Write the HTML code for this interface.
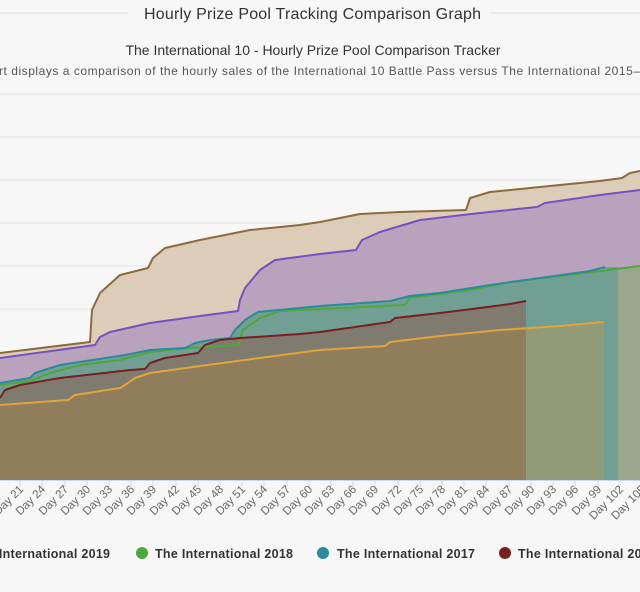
<!DOCTYPE html>
<html><head><meta charset="utf-8"><style>
html,body{margin:0;padding:0;background:#f7f7f7;}
svg{display:block;font-family:"Liberation Sans",sans-serif;}
</style></head><body>
<svg width="640" height="592" viewBox="0 0 640 592" xmlns="http://www.w3.org/2000/svg">
<rect width="640" height="592" fill="#f7f7f7"/>
<line x1="0" y1="13" x2="128" y2="13" stroke="#e2e2e2"/>
<line x1="490" y1="13" x2="640" y2="13" stroke="#e2e2e2"/>
<text x="144" y="19" font-size="16" fill="#333" textLength="337">Hourly Prize Pool Tracking Comparison Graph</text>
<text x="313" y="55" font-size="14" text-anchor="middle" fill="#333">The International 10 - Hourly Prize Pool Comparison Tracker</text>
<text x="-1" y="75" font-size="12" fill="#555" textLength="641">rt displays a comparison of the hourly sales of the International 10 Battle Pass versus The International 2015–</text>
<g stroke="#e4e4e4" stroke-width="1">
<line x1="0" y1="94" x2="640" y2="94"/><line x1="0" y1="137" x2="640" y2="137"/><line x1="0" y1="180" x2="640" y2="180"/><line x1="0" y1="223" x2="640" y2="223"/><line x1="0" y1="266" x2="640" y2="266"/><line x1="0" y1="309" x2="640" y2="309"/>
</g>
<path d="M0,353 L90,342 L92,310 L100,293 L120,275 L148,268 L153,258 L165,248 L200,240 L250,230 L300,225 L320,222 L360,214 L400,212 L466,210 L470,198 L490,192 L540,187 L600,181 L622,178 L630,173 L640,171 L640,480 L0,480Z" fill="#dccdb8"/>
<path d="M0,358 L95,345 L100,337 L110,332 L150,323 L200,316 L238,311 L240,300 L245,288 L260,270 L275,260 L305,256 L320,254 L356,250 L362,240 L380,232 L420,220 L480,213 L537,207 L545,203 L600,195 L640,190 L640,480 L0,480Z" fill="#b8a2bc"/>
<path d="M0,385 L30,381 L50,373 L80,365 L120,360 L150,352 L190,348 L238,345 L243,330 L260,318 L280,311 L320,309 L405,305 L410,298 L470,290 L510,282 L560,276 L600,271 L640,266 L640,480 L0,480Z" fill="#9aa68e"/>
<path d="M0,383 L30,378 L35,373 L60,365 L125,355 L150,350 L185,348 L195,343 L210,340 L230,338 L235,330 L245,320 L258,312 L300,308 L320,306 L390,301 L410,296 L440,293 L490,285 L540,278 L590,271 L605,267 L618,267 L618,480 L0,480Z" fill="#719f94"/>
<path d="M0,398 L5,390 L20,385 L60,378 L130,370 L145,369 L150,363 L165,358 L198,353 L205,345 L220,340 L240,338 L300,334 L320,332 L390,322 L395,318 L440,313 L480,308 L510,304 L526,301 L526,480 L0,480Z" fill="#807b6f"/>
<path d="M0,405 L68,400 L75,395 L120,388 L125,385 L135,378 L150,373 L200,366 L260,358 L320,350 L385,346 L390,342 L440,336 L500,330 L560,326 L604,322 L604,480 L0,480Z" fill="#929b78"/>
<path d="M0,405 L68,400 L75,395 L120,388 L125,385 L135,378 L150,373 L200,366 L260,358 L320,350 L385,346 L390,342 L440,336 L500,330 L526,328 L526,480 L0,480Z" fill="#8f7d5c"/>
<g fill="none" stroke-width="2" stroke-linejoin="round">
<path d="M0,353 L90,342 L92,310 L100,293 L120,275 L148,268 L153,258 L165,248 L200,240 L250,230 L300,225 L320,222 L360,214 L400,212 L466,210 L470,198 L490,192 L540,187 L600,181 L622,178 L630,173 L640,171" stroke="#8d6a3a"/>
<path d="M0,358 L95,345 L100,337 L110,332 L150,323 L200,316 L238,311 L240,300 L245,288 L260,270 L275,260 L305,256 L320,254 L356,250 L362,240 L380,232 L420,220 L480,213 L537,207 L545,203 L600,195 L640,190" stroke="#7a4fc4"/>
<path d="M0,385 L30,381 L50,373 L80,365 L120,360 L150,352 L190,348 L238,345 L243,330 L260,318 L280,311 L320,309 L405,305 L410,298 L470,290 L510,282 L560,276 L600,271 L640,266" stroke="#4fa83a"/>
<path d="M0,383 L30,378 L35,373 L60,365 L125,355 L150,350 L185,348 L195,343 L210,340 L230,338 L235,330 L245,320 L258,312 L300,308 L320,306 L390,301 L410,296 L440,293 L490,285 L540,278 L590,271 L605,267" stroke="#2a8b9c"/>
<path d="M0,398 L5,390 L20,385 L60,378 L130,370 L145,369 L150,363 L165,358 L198,353 L205,345 L220,340 L240,338 L300,334 L320,332 L390,322 L395,318 L440,313 L480,308 L510,304 L526,301" stroke="#7a1f1f"/>
<path d="M0,405 L68,400 L75,395 L120,388 L125,385 L135,378 L150,373 L200,366 L260,358 L320,350 L385,346 L390,342 L440,336 L500,330 L560,326 L604,322" stroke="#e2a33a"/>
</g>
<line x1="0" y1="480.5" x2="640" y2="480.5" stroke="#ccd6eb"/>
<g stroke="#ccd6eb">
<line x1="20" y1="480" x2="20" y2="487"/><line x1="42" y1="480" x2="42" y2="487"/><line x1="65" y1="480" x2="65" y2="487"/><line x1="87" y1="480" x2="87" y2="487"/><line x1="109" y1="480" x2="109" y2="487"/><line x1="131" y1="480" x2="131" y2="487"/><line x1="153" y1="480" x2="153" y2="487"/><line x1="176" y1="480" x2="176" y2="487"/><line x1="198" y1="480" x2="198" y2="487"/><line x1="220" y1="480" x2="220" y2="487"/><line x1="242" y1="480" x2="242" y2="487"/><line x1="264" y1="480" x2="264" y2="487"/><line x1="287" y1="480" x2="287" y2="487"/><line x1="309" y1="480" x2="309" y2="487"/><line x1="331" y1="480" x2="331" y2="487"/><line x1="353" y1="480" x2="353" y2="487"/><line x1="375" y1="480" x2="375" y2="487"/><line x1="398" y1="480" x2="398" y2="487"/><line x1="420" y1="480" x2="420" y2="487"/><line x1="442" y1="480" x2="442" y2="487"/><line x1="464" y1="480" x2="464" y2="487"/><line x1="486" y1="480" x2="486" y2="487"/><line x1="509" y1="480" x2="509" y2="487"/><line x1="531" y1="480" x2="531" y2="487"/><line x1="553" y1="480" x2="553" y2="487"/><line x1="575" y1="480" x2="575" y2="487"/><line x1="598" y1="480" x2="598" y2="487"/><line x1="620" y1="480" x2="620" y2="487"/>
</g>
<g font-size="11.5" fill="#666" text-anchor="end">
<text transform="translate(24,490) rotate(-45)">Day 21</text>
<text transform="translate(46,490) rotate(-45)">Day 24</text>
<text transform="translate(69,490) rotate(-45)">Day 27</text>
<text transform="translate(91,490) rotate(-45)">Day 30</text>
<text transform="translate(113,490) rotate(-45)">Day 33</text>
<text transform="translate(135,490) rotate(-45)">Day 36</text>
<text transform="translate(157,490) rotate(-45)">Day 39</text>
<text transform="translate(180,490) rotate(-45)">Day 42</text>
<text transform="translate(202,490) rotate(-45)">Day 45</text>
<text transform="translate(224,490) rotate(-45)">Day 48</text>
<text transform="translate(246,490) rotate(-45)">Day 51</text>
<text transform="translate(268,490) rotate(-45)">Day 54</text>
<text transform="translate(291,490) rotate(-45)">Day 57</text>
<text transform="translate(313,490) rotate(-45)">Day 60</text>
<text transform="translate(335,490) rotate(-45)">Day 63</text>
<text transform="translate(357,490) rotate(-45)">Day 66</text>
<text transform="translate(379,490) rotate(-45)">Day 69</text>
<text transform="translate(402,490) rotate(-45)">Day 72</text>
<text transform="translate(424,490) rotate(-45)">Day 75</text>
<text transform="translate(446,490) rotate(-45)">Day 78</text>
<text transform="translate(468,490) rotate(-45)">Day 81</text>
<text transform="translate(490,490) rotate(-45)">Day 84</text>
<text transform="translate(513,490) rotate(-45)">Day 87</text>
<text transform="translate(535,490) rotate(-45)">Day 90</text>
<text transform="translate(557,490) rotate(-45)">Day 93</text>
<text transform="translate(579,490) rotate(-45)">Day 96</text>
<text transform="translate(602,490) rotate(-45)">Day 99</text>
<text transform="translate(624,490) rotate(-45)">Day 102</text>
<text transform="translate(646,490) rotate(-45)">Day 105</text>
</g>
<g font-size="12.5" font-weight="bold" fill="#333">
<text x="-28" y="558" textLength="138">The International 2019</text>
<circle cx="142" cy="553" r="6" fill="#4fa83a"/>
<text x="155" y="558" textLength="138">The International 2018</text>
<circle cx="323" cy="553" r="6" fill="#2a8b9c"/>
<text x="337" y="558" textLength="138">The International 2017</text>
<circle cx="505" cy="553" r="6" fill="#7a1f1f"/>
<text x="518" y="558" textLength="138">The International 2016</text>
</g>
</svg>
</body></html>
